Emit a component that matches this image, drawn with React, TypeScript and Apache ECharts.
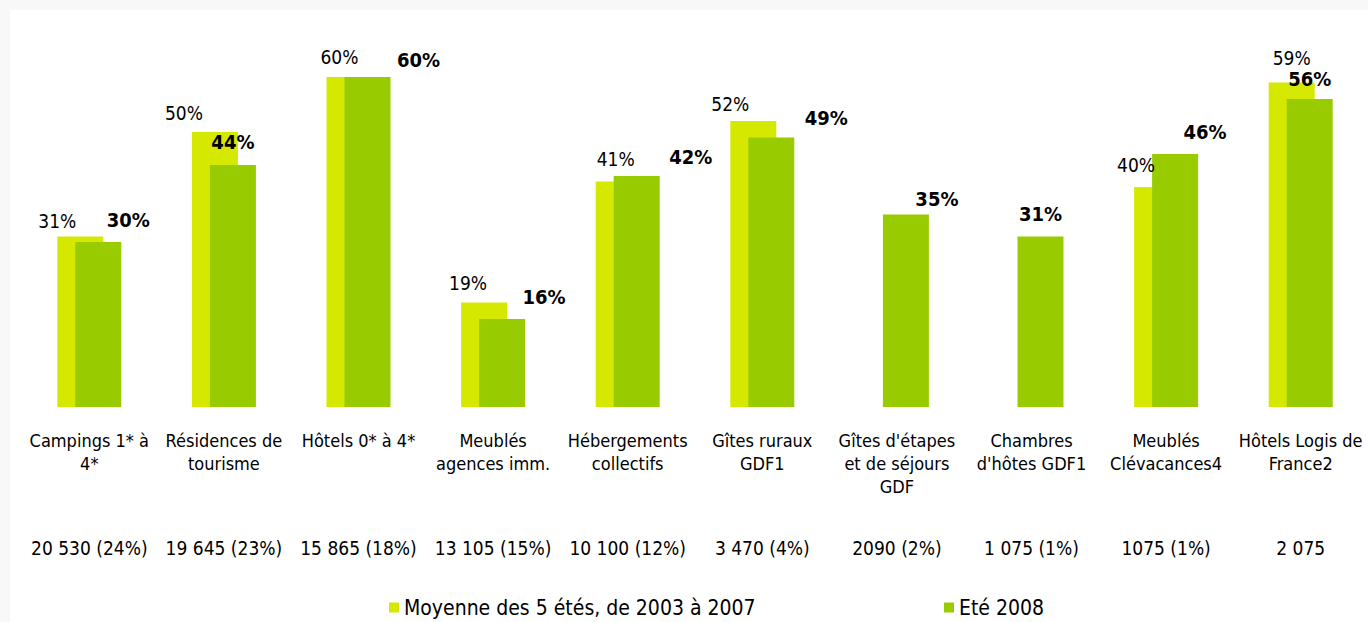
import React, { useEffect, useRef } from "react";
import * as echarts from "echarts";

const categories = [
  "Campings 1* à\n4*",
  "Résidences de\ntourisme",
  "Hôtels 0* à 4*",
  "Meublés\nagences imm.",
  "Hébergements\ncollectifs",
  "Gîtes ruraux\nGDF1",
  "Gîtes d'étapes\net de séjours\nGDF",
  "Chambres\nd'hôtes GDF1",
  "Meublés\nClévacances4",
  "Hôtels Logis de\nFrance2",
];
const capacities = [
  "20 530 (24%)",
  "19 645 (23%)",
  "15 865 (18%)",
  "13 105 (15%)",
  "10 100 (12%)",
  "3 470 (4%)",
  "2090 (2%)",
  "1 075 (1%)",
  "1075 (1%)",
  "2 075",
];
const avg2003to2007: (number | null)[] = [31, 50, 60, 19, 41, 52, null, null, 40, 59];
const summer2008 = [30, 44, 60, 16, 42, 49, 35, 31, 46, 56];

const seriesNames = ["Moyenne des 5 étés, de 2003 à 2007", "Eté 2008"];

// label placement tweaks (layout only)
const avgLabelDx = [-23, -31, -10, -16, -3, -23, 0, 0, -21, 0];
const avgLabelDy = [0, -4, -5, -4, -7, -2, 0, 0, -7, -9];
const sumLabelDx = [30, 0, 51, 42, 54, 55, 31, 0, 30, 0];
const sumLabelDy = [-6, -7, -1, -6, -3, -4, 0, -7, -6, -4];

const FONT = "DejaVu Sans Condensed";
const LIGHT = "#d4e800";
const DARK = "#99cc00";

export default function App() {
  const ref = useRef<HTMLDivElement>(null);
  useEffect(() => {
    if (!ref.current) return;
    const chart = echarts.init(ref.current, undefined, { renderer: "svg" });
    chart.setOption({
      animation: false,
      backgroundColor: "#f8f8f8",
      textStyle: { fontFamily: FONT },
      graphic: [
        {
          type: "rect",
          z: -10,
          silent: true,
          shape: { x: 10, y: 10, width: 1358, height: 612 },
          style: { fill: "#ffffff" },
        },
      ],
      legend: [
        {
          data: [seriesNames[0]],
          left: 384,
          top: 592,
          icon: "rect",
          itemWidth: 10,
          itemHeight: 10,
          itemGap: 5,
          textStyle: { fontFamily: FONT, fontSize: 21, color: "#000" },
        },
        {
          data: [seriesNames[1]],
          left: 939,
          top: 592,
          icon: "rect",
          itemWidth: 10,
          itemHeight: 10,
          itemGap: 5,
          textStyle: { fontFamily: FONT, fontSize: 21, color: "#000" },
        },
      ],
      grid: { left: 22, top: 22, width: 1350, height: 385, containLabel: false },
      xAxis: [
        {
          type: "category",
          data: categories,
          axisLine: { show: false },
          axisTick: { show: false },
          axisLabel: {
            interval: 0,
            margin: 22,
            fontFamily: FONT,
            fontSize: 18,
            lineHeight: 23,
            color: "#000",
            verticalAlign: "top",
          },
        },
        {
          type: "category",
          data: capacities,
          position: "bottom",
          offset: 121,
          axisLine: { show: false },
          axisTick: { show: false },
          axisLabel: {
            interval: 0,
            margin: 8,
            fontFamily: FONT,
            fontSize: 19,
            lineHeight: 24,
            color: "#000",
            verticalAlign: "top",
          },
        },
      ],
      yAxis: {
        type: "value",
        min: 0,
        max: 70,
        show: false,
        splitLine: { show: false },
      },
      series: [
        {
          name: seriesNames[0],
          type: "bar",
          xAxisIndex: 0,
          barWidth: 46,
          barGap: "-60.87%",
          itemStyle: { color: LIGHT },
          data: avg2003to2007.map((v, i) => ({
            value: v,
            label: {
              show: v !== null,
              position: "top",
              distance: 6,
              offset: [avgLabelDx[i], avgLabelDy[i]],
              formatter: "{c}%",
              fontFamily: FONT,
              fontSize: 19,
              color: "#000",
            },
          })),
        },
        {
          name: seriesNames[1],
          type: "bar",
          xAxisIndex: 0,
          barWidth: 46,
          barGap: "-60.87%",
          itemStyle: { color: DARK },
          data: summer2008.map((v, i) => ({
            value: v,
            label: {
              show: true,
              position: "top",
              distance: 6,
              offset: [sumLabelDx[i], sumLabelDy[i]],
              formatter: "{c}%",
              fontFamily: FONT,
              fontSize: 20,
              fontWeight: "bold",
              color: "#000",
            },
          })),
        },
      ],
    });
    return () => chart.dispose();
  }, []);
  return (
    <div
      ref={ref}
      style={{ position: "fixed", left: 0, top: 0, width: 1368, height: 622 }}
    />
  );
}
